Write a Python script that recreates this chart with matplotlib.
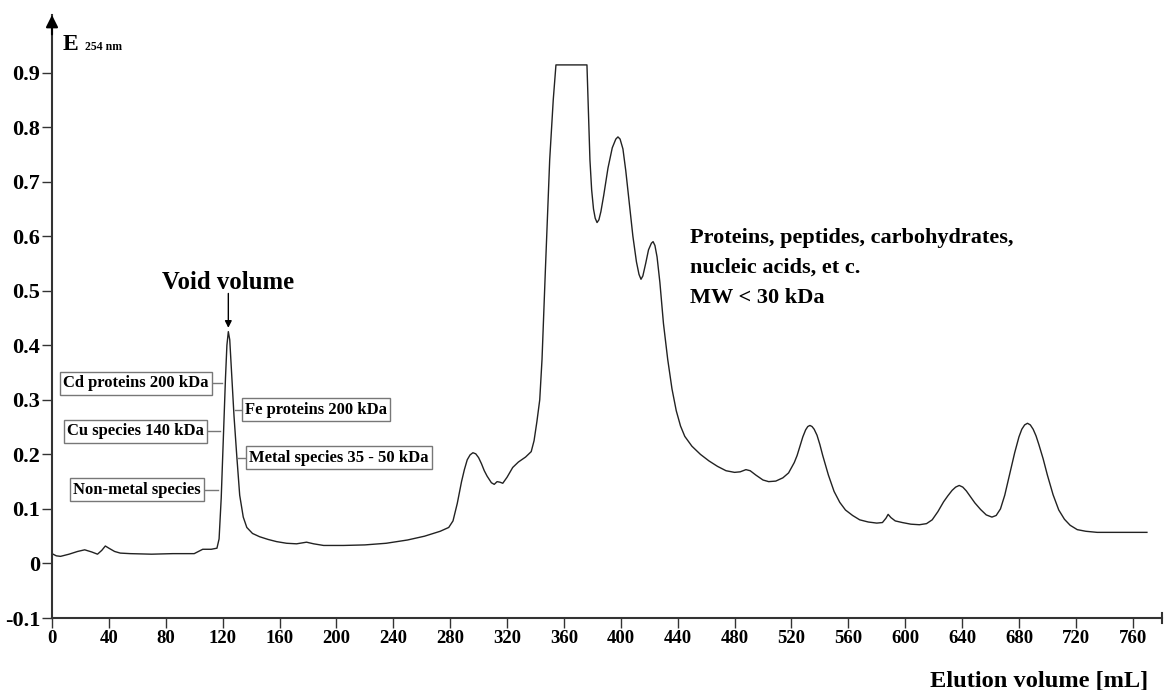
import matplotlib
matplotlib.use("Agg")
import matplotlib.pyplot as plt

# elution volume (mL) and absorbance at 254 nm
vol = [0, 3, 6, 12, 18, 23, 28, 32, 35, 37.5, 40, 44, 48, 55, 70, 85, 100, 103, 106, 112,
       116, 117.5, 119, 120.5, 122, 123, 124, 125, 126.5, 128, 130, 132, 134.5, 137, 141,
       146, 152, 158, 165, 172, 179, 184, 191, 205, 220, 235, 250, 262, 273, 279, 282, 285,
       288, 290, 292, 294, 296, 298, 300, 302, 304, 306, 309, 311, 313, 315, 317, 320, 324,
       328, 333, 337, 339, 341, 343, 344.6, 347, 350, 352.5, 354.4, 376.2, 377.2, 378.3,
       379.5, 380.8, 382, 383.3, 384.6, 386, 388, 391, 394, 396.5, 398, 399.5, 401.5, 403.5,
       406, 408.5, 411, 412.8, 414.2, 415.5, 417.5, 419.5, 421.5, 422.7, 424, 425.5, 427.5,
       430, 433, 436, 439, 442, 445, 450, 456, 462, 468, 474, 480, 484, 488, 491, 495, 500,
       504, 509, 514, 518, 522, 524, 526, 528, 530, 531.5, 533, 534.5, 536, 538, 540, 542,
       546, 550, 554, 558, 563, 568, 574, 580, 584, 586.5, 588, 590, 593, 598, 604, 610,
       615, 619, 623, 627, 630, 633, 635.5, 638, 640.5, 643, 646, 649, 653, 657, 661, 664,
       667, 670, 674, 677, 680, 682, 684, 686, 688, 690, 692, 694, 697, 700, 704, 708, 712,
       716, 721, 727, 735, 750, 770]
absorb = [0.018, 0.014, 0.013, 0.017, 0.022, 0.025, 0.021, 0.017, 0.024, 0.032, 0.028, 0.022,
          0.019, 0.018, 0.017, 0.018, 0.018, 0.022, 0.026, 0.026, 0.028, 0.045, 0.12, 0.23,
          0.34, 0.40, 0.425, 0.41, 0.34, 0.27, 0.195, 0.125, 0.085, 0.066, 0.055, 0.049,
          0.044, 0.040, 0.037, 0.036, 0.039, 0.036, 0.033, 0.033, 0.034, 0.037, 0.043, 0.050,
          0.059, 0.066, 0.078, 0.110, 0.150, 0.172, 0.190, 0.199, 0.203, 0.201, 0.194, 0.183,
          0.170, 0.160, 0.148, 0.145, 0.150, 0.149, 0.147, 0.158, 0.176, 0.186, 0.195, 0.205,
          0.225, 0.26, 0.30, 0.374, 0.54, 0.74, 0.85, 0.914, 0.914, 0.83, 0.74, 0.685, 0.65,
          0.633, 0.625, 0.63, 0.645, 0.675, 0.725, 0.762, 0.778, 0.782, 0.778, 0.76, 0.72,
          0.66, 0.60, 0.553, 0.53, 0.521, 0.527, 0.55, 0.575, 0.587, 0.59, 0.583, 0.562,
          0.515, 0.44, 0.374, 0.32, 0.28, 0.252, 0.233, 0.215, 0.200, 0.188, 0.178, 0.170,
          0.167, 0.168, 0.172, 0.170, 0.162, 0.153, 0.150, 0.151, 0.157, 0.166, 0.185, 0.198,
          0.215, 0.232, 0.245, 0.251, 0.253, 0.251, 0.246, 0.235, 0.218, 0.198, 0.162, 0.132,
          0.112, 0.098, 0.088, 0.080, 0.076, 0.074, 0.075, 0.083, 0.090, 0.084, 0.078, 0.075,
          0.072, 0.071, 0.073, 0.080, 0.095, 0.113, 0.124, 0.134, 0.140, 0.143, 0.140, 0.133,
          0.122, 0.111, 0.099, 0.089, 0.085, 0.088, 0.100, 0.125, 0.170, 0.203, 0.232, 0.246,
          0.254, 0.257, 0.254, 0.246, 0.234, 0.218, 0.192, 0.162, 0.126, 0.098, 0.081, 0.070,
          0.062, 0.059, 0.057, 0.057, 0.057]

xticks = list(range(0, 761, 40))
yticks = [-0.1, 0, 0.1, 0.2, 0.3, 0.4, 0.5, 0.6, 0.7, 0.8, 0.9]
ytick_labels = ["-0.1", "0", "0.1", "0.2", "0.3", "0.4", "0.5", "0.6", "0.7", "0.8", "0.9"]

# species labels on the void volume peak: (text, y, line start, line end)
left_labels = [("Cd proteins 200 kDa", 0.33, 112.5, 119.5),
               ("Cu species 140 kDa", 0.242, 109.0, 118.0),
               ("Non-metal species", 0.135, 107.0, 116.7)]
right_labels = [("Fe proteins 200 kDa", 0.282, 128.7, 133.6),
                ("Metal species 35 - 50 kDa", 0.194, 130.8, 136.4)]

plt.rcParams["font.family"] = ["Liberation Serif", "DejaVu Serif"]
plt.rcParams["font.weight"] = "bold"

fig = plt.figure(figsize=(11.64, 6.90), dpi=100)
ax = fig.add_axes([52 / 1164, 1 - 618 / 690, 1110 / 1164, 603 / 690])

ax.plot(vol, absorb, color="#222222", linewidth=1.0)

ax.set_xlim(0, 780.6)
ax.set_ylim(-0.1, 1.0055)
ax.set_xticks(xticks)
ax.set_yticks(yticks)
ax.set_yticklabels(ytick_labels)
ax.tick_params(axis="both", direction="out", length=7, width=1, color="#333333", pad=1.5)
ax.tick_params(axis="y", labelsize=16)
ax.tick_params(axis="x", labelsize=13.5)

for key in ("top", "right"):
    ax.spines[key].set_visible(False)
for key in ("left", "bottom"):
    ax.spines[key].set_linewidth(1.5)
    ax.spines[key].set_color("#333333")

# arrow tip on the y axis and end mark on the x axis
ax.annotate("", xy=(0, 1.0055), xytext=(0, 0.97), xycoords="data", annotation_clip=False,
            arrowprops=dict(arrowstyle="-|>", color="black", lw=1.5, mutation_scale=18,
                            shrinkA=0, shrinkB=0))
ax.plot([780.6, 780.6], [-0.11, -0.09], color="#333333", lw=1.5, clip_on=False)

# axis titles
fig.text(63 / 1164, 1 - 50 / 690, "E", fontsize=17, ha="left", va="baseline")
fig.text(85 / 1164, 1 - 50 / 690, "254 nm", fontsize=8.5, ha="left", va="baseline")
fig.text(1148 / 1164, 1 - 687 / 690, "Elution volume [mL]", fontsize=17.6, ha="right",
         va="baseline")

# void volume
ax.text(124, 0.516, "Void volume", fontsize=17.8, ha="center", va="center")
ax.annotate("", xy=(124, 0.432), xytext=(124, 0.495),
            arrowprops=dict(arrowstyle="-|>", color="black", lw=1.0, mutation_scale=10,
                            shrinkA=0, shrinkB=0))

box = dict(boxstyle="square,pad=0.2", facecolor="white", edgecolor="#777777", lw=1.0)
for text, y, x0, x1 in left_labels:
    ax.plot([x0, x1], [y, y], color="#777777", lw=1.0)
    ax.text(x0 - 2.2, y, text, fontsize=12, ha="right", va="center", bbox=box)
for text, y, x0, x1 in right_labels:
    ax.plot([x0, x1], [y, y], color="#777777", lw=1.0)
    ax.text(x1 + 2.2, y, text, fontsize=12, ha="left", va="center", bbox=box)

ax.text(449, 0.542, "Proteins, peptides, carbohydrates,\nnucleic acids, et c.\nMW < 30 kDa",
        fontsize=16, ha="left", va="center", linespacing=1.68)

fig.savefig("out.png", dpi=100)
